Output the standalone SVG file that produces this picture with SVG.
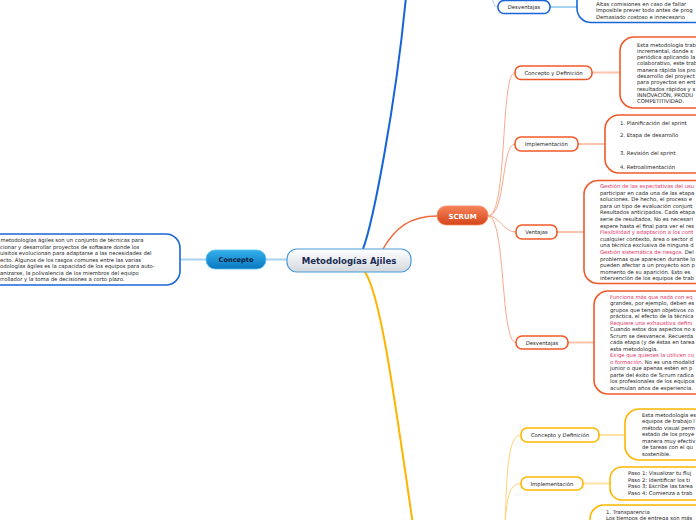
<svg xmlns="http://www.w3.org/2000/svg" width="696" height="520" viewBox="0 0 696 520">
<defs>
<linearGradient id="gCentral" x1="0" y1="0" x2="0" y2="1"><stop offset="0" stop-color="#ffffff"/><stop offset="1" stop-color="#d3d8de"/></linearGradient>
<linearGradient id="gBlue" x1="0" y1="0" x2="0" y2="1"><stop offset="0" stop-color="#35b0ec"/><stop offset="1" stop-color="#0a78c0"/></linearGradient>
<linearGradient id="gOrange" x1="0" y1="0" x2="0" y2="1"><stop offset="0" stop-color="#f6835a"/><stop offset="1" stop-color="#d4441a"/></linearGradient>
</defs>
<style>
text{font-family:"DejaVu Sans","Liberation Sans",sans-serif;}
.box{fill:#fff;stroke-width:1.6;}
.bb{stroke:#1a66d6;}
.ob{stroke:#f2592a;}
.yb{stroke:#ffb600;}
.lbl{font-size:5.3px;fill:#222;}
.t{font-size:5.3px;fill:#222;}
.p{fill:#dc3464;}
.c{fill:none;}
</style>
<g id="connectors">
<path class="c" d="M363,249 C373,222 395,110 406,-3" stroke="#1565d8" stroke-width="2"/>
<path class="c" d="M383,249 C395,228 410,216 437,216" stroke="#f26a3c" stroke-width="1.5"/>
<path class="c" d="M365,272 C380,295 392,380 413,525" stroke="#ffb400" stroke-width="2"/>
<path class="c" d="M266,259.5 H287" stroke="#a8d2f2" stroke-width="2"/>
<path class="c" d="M180,259.5 H206" stroke="#a8d2f2" stroke-width="2"/>
<path class="c" d="M492,-3 C494,5 495,7 498,7" stroke="#a8d2f2" stroke-width="1"/>
<path class="c" d="M550,7 H577" stroke="#a8d2f2" stroke-width="2"/>
<path class="c" d="M488,216 C508,216 500,72.5 515,72.5" stroke="#f9a88c" stroke-width="1"/>
<path class="c" d="M488,216 C506,216 501,144 515,144" stroke="#f9a88c" stroke-width="1"/>
<path class="c" d="M488,216 C500,216 503,232 516,232" stroke="#f9a88c" stroke-width="1"/>
<path class="c" d="M488,216 C506,216 500,342.5 516,342.5" stroke="#f9a88c" stroke-width="1"/>
<path class="c" d="M592,72.5 H620" stroke="#fcc3ad" stroke-width="2"/>
<path class="c" d="M578,144 H605" stroke="#fcc3ad" stroke-width="2"/>
<path class="c" d="M557,232 H584" stroke="#fcc3ad" stroke-width="2"/>
<path class="c" d="M568,342.5 H594" stroke="#fcc3ad" stroke-width="2"/>
<path class="c" d="M505,525 C507,470 508,435 521,435" stroke="#ffd27a" stroke-width="1"/>
<path class="c" d="M505,525 C507,495 510,483.5 521,483.5" stroke="#ffd27a" stroke-width="1"/>
<path class="c" d="M599,435 H625" stroke="#ffe2a2" stroke-width="2"/>
<path class="c" d="M583,483.5 H610" stroke="#ffe2a2" stroke-width="2"/>
</g>
<g id="central">
<rect x="287" y="249" width="124" height="23" rx="10" fill="url(#gCentral)" stroke="#4a9ad8" stroke-width="1.2"/>
<text x="349" y="264" text-anchor="middle" font-size="8.6" font-weight="bold" fill="#1b2b52">Metodologías Ajiles</text>
</g>
<g id="concepto">
<rect x="206" y="250" width="60" height="19" rx="9" fill="url(#gBlue)" stroke="#5cc0f0" stroke-width="0.8"/>
<text x="236" y="262" text-anchor="middle" font-size="6.6" font-weight="bold" fill="#0a1c38">Concepto</text>
</g>
<g id="concepto-texto">
<rect class="box bb" x="-20" y="234" width="200" height="51" rx="14"/>
<text class="t" x="0.5" y="242">metodologías ágiles son un conjunto de técnicas para</text>
<text class="t" x="0" y="248.5">cionar y desarrollar proyectos de software donde los</text>
<text class="t" x="0" y="255">uisitos evolucionan para adaptarse a las necesidades del</text>
<text class="t" x="0" y="261.5">ecto. Algunos de los rasgos comunes entre las varias</text>
<text class="t" x="0" y="268">odologías ágiles es la capacidad de los equipos para auto-</text>
<text class="t" x="0" y="274.5">anizarse, la polivalencia de los miembros del equipo</text>
<text class="t" x="0" y="281">rrollador y la toma de decisiones a corto plazo.</text>
</g>
<g id="desventajas-blue">
<rect class="box bb" x="498" y="0.5" width="52" height="13" rx="6"/>
<text class="lbl" x="524" y="9" text-anchor="middle">Desventajas</text>
</g>
<g id="desventajas-blue-texto">
<rect class="box bb" x="577" y="-30" width="150" height="52.5" rx="14"/>
<text class="t" x="596" y="6">Altas comisiones en caso de fallar</text>
<text class="t" x="596" y="12">Imposible prever todo antes de prog</text>
<text class="t" x="596" y="18.5">Demasiado costoso e innecesario</text>
</g>
<g id="scrum">
<rect x="437" y="206" width="51" height="19" rx="9" fill="url(#gOrange)" stroke="#f58a62" stroke-width="0.8"/>
<text x="462.5" y="218.5" text-anchor="middle" font-size="7" font-weight="bold" fill="#fff">SCRUM</text>
</g>
<g id="scrum-concepto">
<rect class="box ob" x="515" y="66" width="77" height="13.5" rx="6"/>
<text class="lbl" x="553.5" y="74.8" text-anchor="middle">Concepto y Definición</text>
</g>
<g id="scrum-concepto-texto">
<rect class="box ob" x="620" y="37" width="120" height="71" rx="14"/>
<text class="t" x="637" y="46.5">Esta metodología trab</text>
<text class="t" x="637" y="52.8">incremental, donde s</text>
<text class="t" x="637" y="59.1">periódica aplicando la</text>
<text class="t" x="637" y="65.4">colaborativo, este trab</text>
<text class="t" x="637" y="71.7">manera rápida los pro</text>
<text class="t" x="637" y="78">desarrollo del proyect</text>
<text class="t" x="637" y="84.3">para proyectos en ent</text>
<text class="t" x="637" y="90.6">resultados rápidos y s</text>
<text class="t" x="637" y="96.9">INNOVACIÓN, PRODU</text>
<text class="t" x="637" y="103.2">COMPETITIVIDAD.</text>
</g>
<g id="scrum-implementacion">
<rect class="box ob" x="515" y="137" width="63" height="14" rx="6"/>
<text class="lbl" x="546.5" y="146" text-anchor="middle">Implementación</text>
</g>
<g id="scrum-implementacion-texto">
<rect class="box ob" x="605" y="115" width="120" height="58" rx="14"/>
<text class="t" x="620" y="124.5">1. Planificación del sprint</text>
<text class="t" x="620" y="137">2. Etapa de desarrollo</text>
<text class="t" x="620" y="155">3. Revisión del sprint</text>
<text class="t" x="620" y="168.5">4. Retroalimentación</text>
</g>
<g id="scrum-ventajas">
<rect class="box ob" x="516" y="225" width="41" height="14" rx="6"/>
<text class="lbl" x="536.5" y="234" text-anchor="middle">Ventajas</text>
</g>
<g id="scrum-ventajas-texto">
<rect class="box ob" x="584" y="180.5" width="140" height="103" rx="14"/>
<text class="t p" x="600" y="188">Gestión de las expectativas del usu</text>
<text class="t" x="600" y="194.6">participar en cada una de las etapa</text>
<text class="t" x="600" y="201.2">soluciones. De hecho, el proceso e</text>
<text class="t" x="600" y="207.8">para un tipo de evaluación conjunt</text>
<text class="t" x="600" y="214.4">Resultados anticipados. Cada etapa</text>
<text class="t" x="600" y="221">serie de resultados. No es necesari</text>
<text class="t" x="600" y="227.6">espere hasta el final para ver el res</text>
<text class="t p" x="600" y="234.2">Flexibilidad y adaptación a los cont</text>
<text class="t" x="600" y="240.8">cualquier contexto, área o sector d</text>
<text class="t" x="600" y="247.4">una técnica exclusiva de ninguna d</text>
<text class="t" x="600" y="254"><tspan class="p">Gestión sistemática de riesgos.</tspan> Del</text>
<text class="t" x="600" y="260.6">problemas que aparecen durante lo</text>
<text class="t" x="600" y="267.2">pueden afectar a un proyecto son p</text>
<text class="t" x="600" y="273.8">momento de su aparición. Esto es</text>
<text class="t" x="600" y="280.4">intervención de los equipos de trab</text>
</g>
<g id="scrum-desventajas">
<rect class="box ob" x="516" y="336" width="52" height="13" rx="6"/>
<text class="lbl" x="542" y="344.8" text-anchor="middle">Desventajas</text>
</g>
<g id="scrum-desventajas-texto">
<rect class="box ob" x="594" y="291" width="130" height="103" rx="14"/>
<text class="t p" x="610" y="298.5">Funciona más que nada con eq</text>
<text class="t" x="610" y="305">grandes, por ejemplo, deben es</text>
<text class="t" x="610" y="311.5">grupos que tengan objetivos co</text>
<text class="t" x="610" y="318">práctica, el efecto de la técnica</text>
<text class="t p" x="610" y="324.5">Requiere una exhaustiva defini</text>
<text class="t" x="610" y="331">Cuando estos dos aspectos no s</text>
<text class="t" x="610" y="337.5">Scrum se desvanece. Recuerda</text>
<text class="t" x="610" y="344">cada etapa (y de éstas en tarea</text>
<text class="t" x="610" y="350.5">esta metodología.</text>
<text class="t p" x="610" y="357">Exige que quienes la utilicen cu</text>
<text class="t" x="610" y="363.5"><tspan class="p">o formación.</tspan> No es una modalid</text>
<text class="t" x="610" y="370">junior o que apenas estén en p</text>
<text class="t" x="610" y="376.5">parte del éxito de Scrum radica</text>
<text class="t" x="610" y="383">los profesionales de los equipos</text>
<text class="t" x="610" y="389.5">acumulan años de experiencia.</text>
</g>
<g id="kanban-concepto">
<rect class="box yb" x="521" y="428" width="78" height="14" rx="6"/>
<text class="lbl" x="560" y="437" text-anchor="middle">Concepto y Definición</text>
</g>
<g id="kanban-concepto-texto">
<rect class="box yb" x="625" y="409" width="100" height="51" rx="14"/>
<text class="t" x="642" y="416.5">Esta metodología es</text>
<text class="t" x="642" y="423">equipos de trabajo l</text>
<text class="t" x="642" y="429.5">método visual perm</text>
<text class="t" x="642" y="436">estado de los proye</text>
<text class="t" x="642" y="442.5">manera muy efectiv</text>
<text class="t" x="642" y="449">de tareas con el qu</text>
<text class="t" x="642" y="455.5">sostenible.</text>
</g>
<g id="kanban-implementacion">
<rect class="box yb" x="521" y="477" width="62" height="13" rx="6"/>
<text class="lbl" x="552" y="485.8" text-anchor="middle">Implementación</text>
</g>
<g id="kanban-implementacion-texto">
<rect class="box yb" x="610" y="467" width="110" height="33" rx="12"/>
<text class="t" x="628" y="475">Paso 1: Visualizar tu fluj</text>
<text class="t" x="628" y="481.5">Paso 2: Identificar los ti</text>
<text class="t" x="628" y="488">Paso 3: Escribe las tarea</text>
<text class="t" x="628" y="494.5">Paso 4: Comienza a trab</text>
</g>
<g id="kanban-ventajas-texto">
<rect class="box yb" x="590" y="505" width="130" height="40" rx="14"/>
<text class="t" x="606" y="514">1. Transparencia</text>
<text class="t" x="606" y="520.3">Los tiempos de entrega son más</text>
</g>
</svg>
